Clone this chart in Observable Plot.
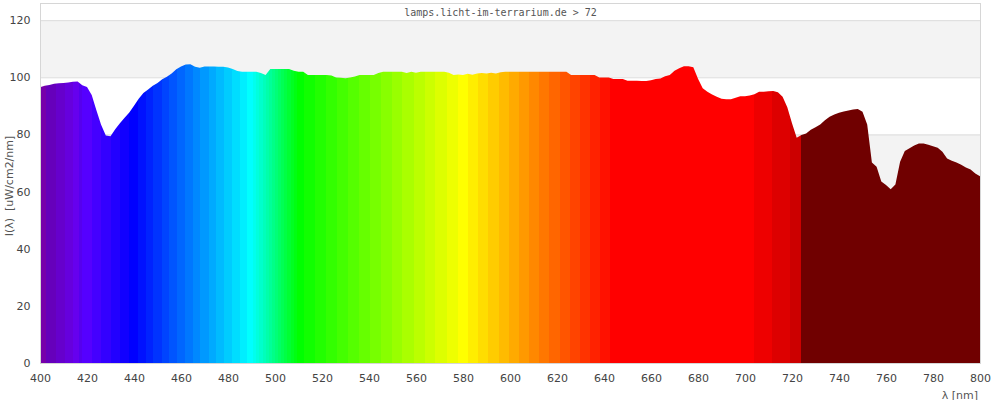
<!DOCTYPE html>
<html><head><meta charset="utf-8">
<script src="https://cdn.jsdelivr.net/npm/d3@7"></script>
<script src="https://cdn.jsdelivr.net/npm/@observablehq/plot@0.6"></script>
<style>html,body{margin:0;padding:0;background:#fff}</style>
</head><body><div id="chart"></div>
<script>
// ---- data ----
const titleText = "lamps.licht-im-terrarium.de > 72";
const yLabelText = "I(λ)\u00a0 [uW/cm2/nm]";
const xLabelText = "λ [nm]";
const xTicks = [400,420,440,460,480,500,520,540,560,580,600,620,640,660,680,700,720,740,760,780,800];
const yTicks = [0,20,40,60,80,100,120];
const bandLow = [20,60,100];
const bandHigh = [40,80,120];
const wlStart = 400, wlStep = 2;
const intensity = [
96.5,97.0,97.3,97.7,97.9,98.0,98.2,98.4,98.5,97.2,
96.6,93.8,88.5,83.4,79.6,79.4,81.8,83.9,85.8,87.7,
90.0,92.5,94.5,95.7,97.0,98.0,99.3,100.2,101.3,102.8,
103.8,104.5,104.6,103.7,103.3,103.8,103.8,103.8,103.7,103.7,
103.4,102.9,102.2,101.9,101.9,101.9,101.9,101.5,100.8,102.9,
102.9,102.9,102.9,102.9,102.3,101.9,101.9,100.8,100.8,100.8,
100.8,100.8,100.6,99.9,99.8,99.7,99.9,100.3,100.8,100.8,
100.8,100.8,101.5,101.9,101.9,101.9,101.9,101.9,101.5,101.9,
101.6,101.9,101.9,101.9,101.9,101.9,101.9,101.6,100.8,101.0,
100.8,101.2,100.9,101.3,101.5,101.3,101.6,101.3,101.8,101.9,
101.9,101.9,101.9,101.9,101.9,101.9,101.9,101.9,101.9,101.9,
101.9,101.9,101.9,100.8,100.8,100.8,100.8,100.8,100.8,99.9,
99.9,99.9,99.4,99.4,99.4,98.8,98.8,98.8,98.7,98.7,
99.0,99.4,99.6,100.4,100.8,102.3,103.2,103.9,103.9,103.5,
99.5,96.2,94.9,94.0,93.2,92.5,92.3,92.3,92.8,93.4,
93.4,93.6,94.1,94.9,94.9,95.1,95.2,94.8,93.2,89.5,
83.9,78.8,79.8,80.3,81.6,82.5,83.5,85.0,86.2,87.0,
87.6,88.0,88.4,88.7,88.9,87.9,83.5,70.2,68.7,63.5,
62.3,60.8,62.5,70.4,74.2,75.2,76.1,76.8,76.8,76.4,
75.9,75.3,73.9,71.6,70.8,70.2,69.4,68.4,67.7,66.3,
65.4];

const spectrum = intensity.map((v, i) => ({nm: wlStart + i * wlStep, v}));
const bands = bandLow.map((lo, i) => ({lo, hi: bandHigh[i]}));

// wavelength -> display colour (quantised like the original palette)
function specColor(l) {
  if (l >= 724) return "#700000";
  let r, g, b;
  if (l < 440) { r = (440 - l) / 60; g = 0; b = 1; }
  else if (l < 490) { r = 0; g = (l - 440) / 50; b = 1; }
  else if (l < 510) { r = 0; g = 1; b = (510 - l) / 20; }
  else if (l < 580) { r = (l - 510) / 70; g = 1; b = 0; }
  else if (l < 645) { r = 1; g = (645 - l) / 65; b = 0; }
  else { r = 1; g = 0; b = 0; }
  const f = l < 420 ? 0.3 + 0.7 * (l - 380) / 40 : l > 700 ? 0.3 + 0.7 * (780 - l) / 80 : 1;
  const q = v => Math.round(Math.round(v * f * 15) / 15 * 255);
  return d3.rgb(q(r), q(g), q(b)).formatHex();
}

const plot = Plot.plot({
  width: 1000, height: 400,
  marginLeft: 40, marginRight: 20, marginTop: 3, marginBottom: 37,
  style: {fontFamily: "'DejaVu Sans', sans-serif", fontSize: "11px", color: "#444", background: "#fff"},
  x: {domain: [400, 800], ticks: xTicks, tickSize: 0, tickPadding: 11, label: null, tickFormat: d => String(d)},
  y: {domain: [0, 126], ticks: yTicks, tickSize: 0, tickPadding: 10, label: null},
  marks: [
    Plot.rect(bands, {x1: 400, x2: 800, y1: "lo", y2: "hi", fill: "#f3f3f3"}),
    Plot.ruleY(yTicks.slice(1), {stroke: "#dcdcdc"}),
    Plot.areaY(spectrum, {x: "nm", y: "v", fill: "url(#spec)", curve: "linear"}),
    Plot.frame({stroke: "#d6d6d6"})
  ]
});

// gradient fill for the spectrum
const svg = d3.select(plot);
const xs = plot.scale("x");
const defs = svg.insert("defs", ":first-child");
const grad = defs.append("linearGradient").attr("id", "spec")
  .attr("gradientUnits", "userSpaceOnUse")
  .attr("x1", xs.apply(400)).attr("x2", xs.apply(800)).attr("y1", 0).attr("y2", 0);
const runs = [];
for (let l = 400; l < 800; l += 0.25) {
  const c = specColor(l + 0.125);
  if (runs.length && runs[runs.length - 1].c === c) runs[runs.length - 1].b = l + 0.25;
  else runs.push({a: l, b: l + 0.25, c});
}
for (const r of runs) {
  grad.append("stop").attr("offset", (r.a - 400) / 400).attr("stop-color", r.c);
  grad.append("stop").attr("offset", (r.b - 400) / 400).attr("stop-color", r.c);
}

// title inside the top strip
svg.append("text").text(titleText)
  .attr("x", 500.5).attr("y", 15.5).attr("text-anchor", "middle")
  .attr("font-family", "'DejaVu Sans Mono', monospace").attr("font-size", 10).attr("fill", "#555");
// y label
svg.append("text").text(yLabelText)
  .attr("transform", "translate(12.5,186) rotate(-90)").attr("text-anchor", "middle")
  .attr("font-size", 11).attr("fill", "#555");
// x label
svg.append("text").text(xLabelText)
  .attr("x", 978).attr("y", 398.5).attr("text-anchor", "end")
  .attr("font-size", 11).attr("fill", "#555");

document.getElementById("chart").appendChild(plot);
</script>
</body></html>
